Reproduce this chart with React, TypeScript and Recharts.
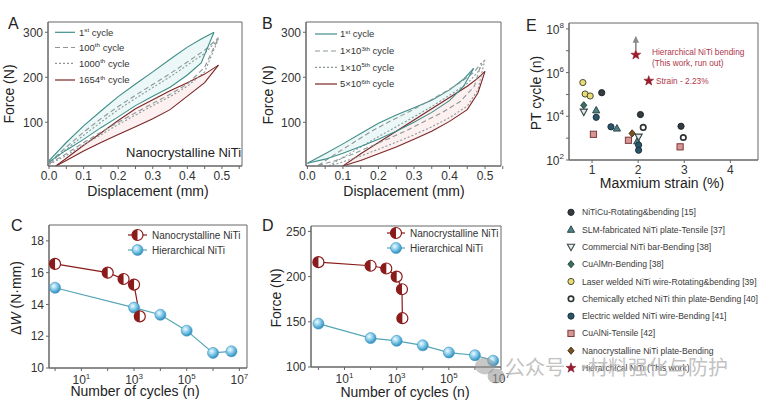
import React from "react";
import {
  ComposedChart,
  ScatterChart,
  Line,
  Area,
  Scatter,
  XAxis,
  YAxis,
  ReferenceArea,
  ReferenceLine,
  ReferenceDot,
} from "recharts";

const FONT = "Arial, 'Liberation Sans', sans-serif";
const TEAL = "#3f8d89";
const GREY = "#8c9898";
const RED = "#7b2626";
const NANO = "#8b1a1a";
const HIER = "#55a5b6";
const AXIS = "#666";
const INK = "#222";

// A: nanocrystalline NiTi, force (N) vs displacement (mm)
const dispTicks = [0, 0.05, 0.1, 0.15, 0.2, 0.25, 0.3, 0.35, 0.4, 0.45, 0.5, 0.55];
const forceTicks = [100, 200, 300];

const aCycle1X = [0, 0.05, 0.1, 0.15, 0.2, 0.25, 0.3, 0.35, 0.4, 0.44, 0.477];
const aCycle1Up = [15, 55, 92, 125, 157, 185, 212, 240, 267, 285, 300];
const aCycle1Low = [12, 38, 62, 88, 112, 137, 158, 178, 205, 232, 300];
const aCycle100X = [0, 0.05, 0.1, 0.15, 0.2, 0.25, 0.3, 0.35, 0.4, 0.45, 0.49];
const aCycle100Up = [10, 45, 78, 108, 135, 160, 184, 208, 234, 260, 288];
const aCycle100Low = [8, 30, 55, 78, 100, 121, 142, 162, 185, 222, 288];
const aCycle1000X = [0, 0.05, 0.1, 0.15, 0.2, 0.25, 0.3, 0.35, 0.4, 0.45, 0.49];
const aCycle1000Up = [8, 40, 71, 100, 128, 153, 177, 201, 227, 253, 285];
const aCycle1000Low = [6, 26, 50, 72, 95, 116, 137, 157, 180, 212, 285];
const aCycle1654X = [0.02, 0.05, 0.1, 0.15, 0.2, 0.25, 0.3, 0.35, 0.4, 0.45, 0.49];
const aCycle1654Up = [3, 20, 49, 76, 104, 130, 150, 170, 188, 207, 227];
const aCycle1654Low = [3, 15, 36, 55, 73, 90, 108, 128, 158, 188, 227];

// B: hierarchical NiTi
const bCycle1X = [0, 0.05, 0.1, 0.15, 0.2, 0.25, 0.3, 0.35, 0.4, 0.44, 0.468];
const bCycle1Up = [9, 30, 52, 75, 98, 116, 132, 149, 172, 196, 220];
const bCycle1Low = [9, 18, 31, 46, 62, 80, 100, 122, 148, 180, 220];
const bCycle1e3X = [0.03, 0.08, 0.13, 0.18, 0.23, 0.28, 0.33, 0.38, 0.43, 0.47, 0.49];
const bCycle1e3Up = [4, 30, 55, 80, 101, 121, 142, 164, 188, 212, 232];
const bCycle1e3Low = [4, 15, 30, 47, 64, 82, 102, 122, 146, 180, 232];
const bCycle1e5X = [0.06, 0.1, 0.15, 0.2, 0.25, 0.3, 0.35, 0.4, 0.45, 0.48, 0.5];
const bCycle1e5Up = [3, 22, 45, 68, 90, 112, 135, 160, 186, 212, 240];
const bCycle1e5Low = [3, 12, 25, 40, 56, 72, 90, 110, 136, 172, 240];
const bCycle5e6X = [0.1, 0.15, 0.2, 0.25, 0.3, 0.35, 0.4, 0.45, 0.48, 0.5];
const bCycle5e6Up = [3, 30, 55, 80, 105, 130, 155, 180, 198, 213];
const bCycle5e6Low = [3, 15, 30, 45, 62, 80, 102, 128, 165, 213];

// C: energy dissipation vs cycles
const cyclesTicks = [1, 10, 100, 1e3, 1e4, 1e5, 1e6, 1e7];
const workTicks = [10, 12, 14, 16, 18];
const workCyclesNano = [1, 100, 400, 1000, 1654];
const workNano = [16.55, 16.0, 15.6, 15.25, 13.25];
const workCyclesHier = [1, 1000, 1e4, 1e5, 1e6, 5e6];
const workHier = [15.05, 13.8, 13.35, 12.35, 10.95, 11.05];

// D: peak force vs cycles
const peakTicks = [100, 150, 200, 250];
const forceCyclesNano = [1, 100, 400, 1000, 1600, 1654];
const forceNano = [216, 212, 209, 200, 186, 154];
const forceCyclesHier = [1, 100, 1000, 1e4, 1e5, 1e6, 5e6];
const forceHier = [148, 132, 129, 124, 116, 113, 107];

// E: PT cycle vs maximum strain
const strainTicks = [1, 2, 3, 4];
const ptTicks = [1e2, 1e3, 1e4, 1e5, 1e6, 1e7, 1e8];
const niTiCuStrain = [1.21, 2.05, 2.93];
const niTiCuCycles = [1.2e5, 1.2e4, 3.5e3];
const slmStrain = [1.09, 1.54, 1.98];
const slmCycles = [1.9e4, 2.8e3, 720];
const barStrain = [0.82, 2.01];
const barCycles = [1.6e4, 1.15e3];
const cuAlMnStrain = [0.82];
const cuAlMnCycles = [3.2e4];
const laserStrain = [0.8, 0.85, 0.96];
const laserCycles = [3.5e5, 1.05e5, 8.5e4];
const etchedStrain = [2.11, 2.98];
const etchedCycles = [3.1e3, 1.07e3];
const electricStrain = [1.09, 1.41, 2.01, 2.01];
const electricCycles = [9e3, 3.3e3, 480, 280];
const cuAlNiStrain = [1.03, 1.79, 2.91];
const cuAlNiCycles = [1.5e3, 800, 400];
const nanoPlateStrain = [1.87];
const nanoPlateCycles = [1.65e3];
const thisWorkStrain = [1.95, 2.23];
const thisWorkCycles = [6.5e6, 4.2e5];

const loop = (xs: number[], up: number[], lo: number[]) =>
  xs.map((x, i) => ({ x, up: up[i], lo: lo[i] }));
const points = (xs: number[], ys: number[]) => xs.map((x, i) => ({ x, y: ys[i] }));

type Loop = {
  key: string;
  data: { x: number; up: number; lo: number }[];
  color: string;
  dash?: string;
  fill?: string;
};

const aLoops: Loop[] = [
  { key: "a1", data: loop(aCycle1X, aCycle1Up, aCycle1Low), color: TEAL, fill: "#ebf8f7" },
  { key: "a1654", data: loop(aCycle1654X, aCycle1654Up, aCycle1654Low), color: RED, fill: "#fdf0f0" },
  { key: "a100", data: loop(aCycle100X, aCycle100Up, aCycle100Low), color: GREY, dash: "5 3" },
  { key: "a1000", data: loop(aCycle1000X, aCycle1000Up, aCycle1000Low), color: GREY, dash: "2 2" },
];
const bLoops: Loop[] = [
  { key: "b1", data: loop(bCycle1X, bCycle1Up, bCycle1Low), color: TEAL, fill: "#ebf8f7" },
  { key: "b5e6", data: loop(bCycle5e6X, bCycle5e6Up, bCycle5e6Low), color: RED, fill: "#fdf0f0" },
  { key: "b1e3", data: loop(bCycle1e3X, bCycle1e3Up, bCycle1e3Low), color: GREY, dash: "5 3" },
  { key: "b1e5", data: loop(bCycle1e5X, bCycle1e5Up, bCycle1e5Low), color: GREY, dash: "2 2" },
];

const tickStyle = { fontSize: 12, fill: "#333", fontFamily: FONT };
const fmtDisp = (v: number) =>
  Math.abs(v * 10 - Math.round(v * 10)) < 1e-6 && v <= 0.5 ? v.toFixed(1) : "";

const PowXTick = (props: any) => {
  const { x, y, payload } = props;
  const e = Math.round(Math.log10(payload.value));
  if (e % 2 === 0) return <g />;
  return (
    <text x={x} y={y + 11} textAnchor="middle" fontSize={12} fill="#333" fontFamily={FONT}>
      10
      <tspan dy={-5} fontSize={8}>
        {e}
      </tspan>
    </text>
  );
};

const PowYTick = (props: any) => {
  const { x, y, payload } = props;
  const e = Math.round(Math.log10(payload.value));
  if (e % 2 === 1) return <g />;
  return (
    <text x={x} y={y + 5} textAnchor="end" fontSize={12} fill="#333" fontFamily={FONT}>
      10
      <tspan dy={-6} fontSize={8}>
        {e}
      </tspan>
    </text>
  );
};

const HalfDot = ({ cx, cy, r = 5.5 }: { cx: number; cy: number; r?: number }) => (
  <g>
    <circle cx={cx} cy={cy} r={r} fill="#fff" stroke={NANO} strokeWidth={1.2} />
    <path d={`M${cx},${cy - r} A${r},${r} 0 0 0 ${cx},${cy + r} Z`} fill={NANO} />
  </g>
);

const Sphere = ({ cx, cy, r = 5.5 }: { cx: number; cy: number; r?: number }) => (
  <circle cx={cx} cy={cy} r={r} fill="url(#sphereGrad)" stroke="#3b93bf" strokeWidth={0.6} />
);

type Kind = "circle" | "ring" | "triangle" | "triangleDown" | "diamond" | "square" | "star";

const Marker = ({
  kind,
  cx,
  cy,
  fill,
  stroke,
}: {
  kind: Kind;
  cx: number;
  cy: number;
  fill: string;
  stroke: string;
}) => {
  const r = 3.1;
  if (kind === "circle")
    return <circle cx={cx} cy={cy} r={r} fill={fill} stroke={stroke} strokeWidth={1} />;
  if (kind === "ring")
    return <circle cx={cx} cy={cy} r={2.7} fill="#fff" stroke={stroke} strokeWidth={1.7} />;
  if (kind === "triangle")
    return (
      <path
        d={`M${cx},${cy - 3.8} L${cx + 3.6},${cy + 2.7} L${cx - 3.6},${cy + 2.7} Z`}
        fill={fill}
        stroke={stroke}
        strokeWidth={1}
      />
    );
  if (kind === "triangleDown")
    return (
      <path
        d={`M${cx},${cy + 3.8} L${cx + 3.6},${cy - 2.7} L${cx - 3.6},${cy - 2.7} Z`}
        fill={fill}
        stroke={stroke}
        strokeWidth={1.1}
      />
    );
  if (kind === "diamond")
    return (
      <path
        d={`M${cx},${cy - 3.6} L${cx + 3.1},${cy} L${cx},${cy + 3.6} L${cx - 3.1},${cy} Z`}
        fill={fill}
        stroke={stroke}
        strokeWidth={1}
      />
    );
  if (kind === "square")
    return (
      <rect x={cx - 3.1} y={cy - 3.1} width={6.2} height={6.2} fill={fill} stroke={stroke} strokeWidth={1} />
    );
  const pts: string[] = [];
  for (let i = 0; i < 10; i++) {
    const rad = i % 2 === 0 ? 5.2 : 2.1;
    const a = -Math.PI / 2 + (i * Math.PI) / 5;
    pts.push(`${cx + rad * Math.cos(a)},${cy + rad * Math.sin(a)}`);
  }
  return <polygon points={pts.join(" ")} fill={fill} stroke={stroke} strokeWidth={0.5} />;
};

const eSeries: {
  name: string;
  kind: Kind;
  fill: string;
  stroke: string;
  x: number[];
  y: number[];
}[] = [
  { name: "NiTiCu-Rotating&bending [15]", kind: "circle", fill: "#333c40", stroke: "#1f2528", x: niTiCuStrain, y: niTiCuCycles },
  { name: "SLM-fabricated NiTi plate-Tensile [37]", kind: "triangle", fill: "#4f7f83", stroke: "#2e4a4d", x: slmStrain, y: slmCycles },
  { name: "Commercial NiTi bar-Bending [38]", kind: "triangleDown", fill: "#e6ecec", stroke: "#39474a", x: barStrain, y: barCycles },
  { name: "CuAlMn-Bending [38]", kind: "diamond", fill: "#3c6b62", stroke: "#2a4a44", x: cuAlMnStrain, y: cuAlMnCycles },
  { name: "Laser welded NiTi wire-Rotating&bending [39]", kind: "circle", fill: "#e9dc72", stroke: "#4a4a3a", x: laserStrain, y: laserCycles },
  { name: "Chemically etched NiTi thin plate-Bending [40]", kind: "ring", fill: "#fff", stroke: "#2e3436", x: etchedStrain, y: etchedCycles },
  { name: "Electric welded NiTi wire-Bending [41]", kind: "circle", fill: "#2b5468", stroke: "#1c3340", x: electricStrain, y: electricCycles },
  { name: "CuAlNi-Tensile [42]", kind: "square", fill: "#d99494", stroke: "#7a3c3c", x: cuAlNiStrain, y: cuAlNiCycles },
  { name: "Nanocrystalline NiTi plate-Bending", kind: "diamond", fill: "#7a5228", stroke: "#4a3418", x: nanoPlateStrain, y: nanoPlateCycles },
  { name: "Hierarchical NiTi (This work)", kind: "star", fill: "#9e1a2c", stroke: "#7a1020", x: thisWorkStrain, y: thisWorkCycles },
];

function LoopPanel({
  left,
  margin,
  xDomain,
  loops,
}: {
  left: number;
  margin: { top: number; right: number; bottom: number; left: number };
  xDomain: [number, number];
  loops: Loop[];
}) {
  const yDomain: [number, number] = [2.8, 322.8];
  return (
    <div style={{ position: "absolute", left, top: 0 }}>
      <ComposedChart width={260} height={200} margin={margin}>
        <XAxis
          type="number"
          dataKey="x"
          domain={xDomain}
          allowDataOverflow
          ticks={dispTicks}
          interval={0}
          tickFormatter={fmtDisp}
          height={24}
          tickSize={3}
          tickMargin={2}
          stroke={AXIS}
          tick={tickStyle}
        />
        <YAxis
          type="number"
          domain={yDomain}
          allowDataOverflow
          ticks={forceTicks}
          interval={0}
          width={40}
          tickSize={3}
          tickMargin={2}
          stroke={AXIS}
          tick={tickStyle}
        />
        {loops
          .filter((l) => l.fill)
          .map((l) => (
            <Area
              key={l.key + "f"}
              data={l.data}
              dataKey={(d: any) => [d.lo, d.up]}
              type="linear"
              stroke="none"
              fill={l.fill}
              fillOpacity={1}
              isAnimationActive={false}
            />
          ))}
        {loops.map((l) => (
          <Line
            key={l.key + "u"}
            data={l.data}
            dataKey="up"
            type="linear"
            stroke={l.color}
            strokeWidth={1.1}
            strokeDasharray={l.dash}
            dot={false}
            isAnimationActive={false}
          />
        ))}
        {loops.map((l) => (
          <Line
            key={l.key + "l"}
            data={l.data}
            dataKey="lo"
            type="linear"
            stroke={l.color}
            strokeWidth={1.1}
            strokeDasharray={l.dash}
            dot={false}
            isAnimationActive={false}
          />
        ))}
        <ReferenceArea
          x1={xDomain[0]}
          x2={xDomain[1]}
          y1={yDomain[0]}
          y2={yDomain[1]}
          fill="none"
          fillOpacity={0}
          stroke={AXIS}
        />
      </ComposedChart>
    </div>
  );
}

function CyclePanel({
  left,
  width,
  margin,
  xDomain,
  yDomain,
  yTicks,
  yWidth,
  nano,
  hier,
}: {
  left: number;
  width: number;
  margin: { top: number; right: number; bottom: number; left: number };
  xDomain: [number, number];
  yDomain: [number, number];
  yTicks: number[];
  yWidth: number;
  nano: { x: number; y: number }[];
  hier: { x: number; y: number }[];
}) {
  return (
    <div style={{ position: "absolute", left, top: 200 }}>
      <ComposedChart width={width} height={202} margin={margin}>
        <XAxis
          type="number"
          dataKey="x"
          scale="log"
          domain={xDomain}
          allowDataOverflow
          ticks={cyclesTicks}
          interval={0}
          tick={(p: any) => <PowXTick {...p} />}
          height={24}
          tickSize={3}
          tickMargin={2}
          stroke={AXIS}
        />
        <YAxis
          type="number"
          domain={yDomain}
          allowDataOverflow
          ticks={yTicks}
          interval={0}
          width={yWidth}
          tickSize={3}
          tickMargin={2}
          stroke={AXIS}
          tick={tickStyle}
        />
        <Line
          data={hier}
          dataKey="y"
          type="linear"
          stroke={HIER}
          strokeWidth={1.2}
          isAnimationActive={false}
          dot={(p: any) => <Sphere key={"h" + p.index} cx={p.cx} cy={p.cy} />}
        />
        <Line
          data={nano}
          dataKey="y"
          type="linear"
          stroke={NANO}
          strokeWidth={1.2}
          isAnimationActive={false}
          dot={(p: any) => <HalfDot key={"n" + p.index} cx={p.cx} cy={p.cy} />}
        />
        <ReferenceArea
          x1={xDomain[0]}
          x2={xDomain[1]}
          y1={yDomain[0]}
          y2={yDomain[1]}
          fill="none"
          fillOpacity={0}
          stroke={AXIS}
        />
      </ComposedChart>
    </div>
  );
}

function StrainPanel() {
  const xDomain: [number, number] = [0.5, 4.6];
  const yDomain: [number, number] = [100, 1.86e8];
  return (
    <div style={{ position: "absolute", left: 518, top: 0 }}>
      <ScatterChart width={241} height={200} margin={{ top: 23, right: 1, bottom: 16, left: 7 }}>
        <XAxis
          type="number"
          dataKey="x"
          domain={xDomain}
          allowDataOverflow
          ticks={strainTicks}
          interval={0}
          height={24}
          tickSize={3}
          tickMargin={2}
          stroke={AXIS}
          tick={tickStyle}
        />
        <YAxis
          type="number"
          dataKey="y"
          scale="log"
          domain={yDomain}
          allowDataOverflow
          ticks={ptTicks}
          interval={0}
          width={44}
          tickSize={3}
          tickMargin={2}
          stroke={AXIS}
          tick={(p: any) => <PowYTick {...p} />}
        />
        {eSeries.map((s) => (
          <Scatter
            key={s.name}
            data={points(s.x, s.y)}
            isAnimationActive={false}
            shape={(p: any) => (
              <Marker kind={s.kind} cx={p.cx} cy={p.cy} fill={s.fill} stroke={s.stroke} />
            )}
          />
        ))}
        <ReferenceLine
          segment={[
            { x: thisWorkStrain[0], y: 1.1e7 },
            { x: thisWorkStrain[0], y: 2.6e7 },
          ]}
          stroke="#8a8a8a"
          strokeWidth={1.6}
        />
        <ReferenceDot
          x={thisWorkStrain[0]}
          y={2.3e7}
          r={0}
          shape={(p: any) => (
            <path
              d={`M${p.cx},${p.cy - 7} L${p.cx + 3.2},${p.cy} L${p.cx - 3.2},${p.cy} Z`}
              fill="#8a8a8a"
            />
          )}
        />
        <ReferenceArea
          x1={xDomain[0]}
          x2={xDomain[1]}
          y1={yDomain[0]}
          y2={yDomain[1]}
          fill="none"
          fillOpacity={0}
          stroke={AXIS}
        />
      </ScatterChart>
    </div>
  );
}

const Sup = ({ base, sup, rest, size }: { base: string; sup: string; rest: string; size: number }) => (
  <>
    {base}
    <tspan dy={-size * 0.4} fontSize={size * 0.65}>
      {sup}
    </tspan>
    <tspan dy={size * 0.4} fontSize={size}>
      {rest}
    </tspan>
  </>
);

const aLegend = [
  { base: "1", sup: "st", color: TEAL, dash: undefined as string | undefined, y: 32.3 },
  { base: "100", sup: "th", color: GREY, dash: "5 3", y: 47.5 },
  { base: "1000", sup: "th", color: GREY, dash: "2 2", y: 63.3 },
  { base: "1654", sup: "th", color: RED, dash: undefined, y: 80 },
];
const bLegend = [
  { base: "1", sup: "st", color: TEAL, dash: undefined as string | undefined, y: 34 },
  { base: "1×10", sup: "3th", color: GREY, dash: "5 3", y: 51 },
  { base: "1×10", sup: "5th", color: GREY, dash: "2 2", y: 67.3 },
  { base: "5×10", sup: "6th", color: RED, dash: undefined, y: 84 },
];

function Overlay() {
  const title = { fontSize: 14, fill: INK, fontFamily: FONT };
  const letter = { fontSize: 16, fill: INK, fontFamily: FONT };
  return (
    <svg
      width={759}
      height={402}
      style={{ position: "absolute", left: 0, top: 0, pointerEvents: "none" }}
    >
      <defs>
        <radialGradient id="sphereGrad" cx="38%" cy="35%" r="65%">
          <stop offset="0%" stopColor="#f2fbff" />
          <stop offset="45%" stopColor="#8fd0ec" />
          <stop offset="100%" stopColor="#2f8fc0" />
        </radialGradient>
      </defs>

      {/* panel letters */}
      <text x={8} y={29} {...letter}>A</text>
      <text x={262} y={29} {...letter}>B</text>
      <text x={526} y={31} {...letter}>E</text>
      <text x={11} y={231} {...letter}>C</text>
      <text x={262} y={231} {...letter}>D</text>

      {/* axis titles */}
      <text x={148} y={196} textAnchor="middle" {...title}>Displacement (mm)</text>
      <text x={404} y={196} textAnchor="middle" {...title}>Displacement (mm)</text>
      <text transform="rotate(-90 14 94)" x={14} y={94} textAnchor="middle" {...title}>Force (N)</text>
      <text transform="rotate(-90 273 95)" x={273} y={95} textAnchor="middle" {...title}>Force (N)</text>
      <text x={135} y={396} textAnchor="middle" {...title}>Number of cycles (n)</text>
      <text x={405} y={397} textAnchor="middle" {...title}>Number of cycles (n)</text>
      <text transform="rotate(-90 21 298)" x={21} y={298} textAnchor="middle" {...title}>
        Δ<tspan fontStyle="italic">W</tspan> (N·mm)
      </text>
      <text transform="rotate(-90 281 298)" x={281} y={298} textAnchor="middle" {...title}>Force (N)</text>
      <text x={662} y={188} textAnchor="middle" {...title}>Maxmium strain (%)</text>
      <text transform="rotate(-90 541 93)" x={541} y={93} textAnchor="middle" {...title}>PT cycle (n)</text>

      <text x={126} y={157} fontSize={13} fill={INK} fontFamily={FONT}>Nanocrystalline NiTi</text>

      {/* legends A and B */}
      {aLegend.map((r) => (
        <g key={"la" + r.y}>
          <line x1={55} x2={75} y1={r.y} y2={r.y} stroke={r.color} strokeWidth={1.2} strokeDasharray={r.dash} />
          <text x={79} y={r.y + 3.3} fontSize={9.5} fill="#333" fontFamily={FONT}>
            <Sup base={r.base} sup={r.sup} rest=" cycle" size={9.5} />
          </text>
        </g>
      ))}
      {bLegend.map((r) => (
        <g key={"lb" + r.y}>
          <line x1={315} x2={337} y1={r.y} y2={r.y} stroke={r.color} strokeWidth={1.2} strokeDasharray={r.dash} />
          <text x={340} y={r.y + 3.3} fontSize={9.5} fill="#333" fontFamily={FONT}>
            <Sup base={r.base} sup={r.sup} rest=" cycle" size={9.5} />
          </text>
        </g>
      ))}

      {/* legends C and D */}
      {[
        { lx: 128, rx: 147, tx: 152, y1: 235, y2: 250 },
        { lx: 387, rx: 405, tx: 410, y1: 233, y2: 248 },
      ].map((g) => (
        <g key={"lc" + g.lx}>
          <line x1={g.lx} x2={g.rx} y1={g.y1} y2={g.y1} stroke={NANO} strokeWidth={1.2} />
          <HalfDot cx={(g.lx + g.rx) / 2} cy={g.y1} />
          <text x={g.tx} y={g.y1 + 3.5} fontSize={10} fill="#333" fontFamily={FONT}>Nanocrystalline NiTi</text>
          <line x1={g.lx} x2={g.rx} y1={g.y2} y2={g.y2} stroke={HIER} strokeWidth={1.2} />
          <Sphere cx={(g.lx + g.rx) / 2} cy={g.y2} />
          <text x={g.tx} y={g.y2 + 3.5} fontSize={10} fill="#333" fontFamily={FONT}>Hierarchical NiTi</text>
        </g>
      ))}

      {/* E annotations */}
      <text x={652} y={54.5} fontSize={8.3} fill="#b0364a" fontFamily={FONT}>Hierarchical NiTi bending</text>
      <text x={652} y={66} fontSize={8.3} fill="#b0364a" fontFamily={FONT}>(This work, run out)</text>
      <text x={656} y={84} fontSize={8.3} fill="#b0364a" fontFamily={FONT}>Strain - 2.23%</text>

      {/* E legend */}
      {eSeries.map((s, i) => (
        <g key={"le" + s.name}>
          <Marker kind={s.kind} cx={571} cy={212.3 + i * 17.3} fill={s.fill} stroke={s.stroke} />
          <text x={582} y={212.3 + i * 17.3 + 3} fontSize={8.6} fill="#3a3a3a" fontFamily={FONT}>
            {s.name}
          </text>
        </g>
      ))}

      {/* watermark */}
      <ellipse cx={485} cy={366} rx={10} ry={8.5} fill="#9a9a9a" opacity={0.55} />
      <ellipse cx={496} cy={376} rx={8.5} ry={7.5} fill="#9a9a9a" opacity={0.6} />
      <g fontFamily="'Noto Sans CJK SC', sans-serif" fontSize={20} fill="#b8b8b8" opacity={0.85}>
        <text x={505} y={375}>公众号</text>
        <text x={574} y={375}>·</text>
        <text x={588} y={375}>材料强化与防护</text>
      </g>
    </svg>
  );
}

export default function App() {
  return (
    <div
      style={{
        position: "absolute",
        left: 0,
        top: 0,
        width: 759,
        height: 402,
        background: "#fff",
        overflow: "hidden",
        fontFamily: FONT,
      }}
    >
      <LoopPanel
        left={0}
        margin={{ top: 22, right: 18, bottom: 10, left: 8 }}
        xDomain={[-0.003, 0.558]}
        loops={aLoops}
      />
      <LoopPanel
        left={258}
        margin={{ top: 22, right: 17, bottom: 10, left: 8 }}
        xDomain={[-0.004, 0.545]}
        loops={bLoops}
      />
      <StrainPanel />
      <CyclePanel
        left={0}
        width={258}
        margin={{ top: 25, right: 11, bottom: 10, left: 13 }}
        xDomain={[0.59, 1.95e7]}
        yDomain={[10, 19]}
        yTicks={workTicks}
        yWidth={36}
        nano={points(workCyclesNano, workNano)}
        hier={points(workCyclesHier, workHier)}
      />
      <CyclePanel
        left={258}
        width={260}
        margin={{ top: 26, right: 17, bottom: 11, left: 13 }}
        xDomain={[0.52, 1e7]}
        yDomain={[100, 256]}
        yTicks={peakTicks}
        yWidth={40}
        nano={points(forceCyclesNano, forceNano)}
        hier={points(forceCyclesHier, forceHier)}
      />
      <Overlay />
    </div>
  );
}
